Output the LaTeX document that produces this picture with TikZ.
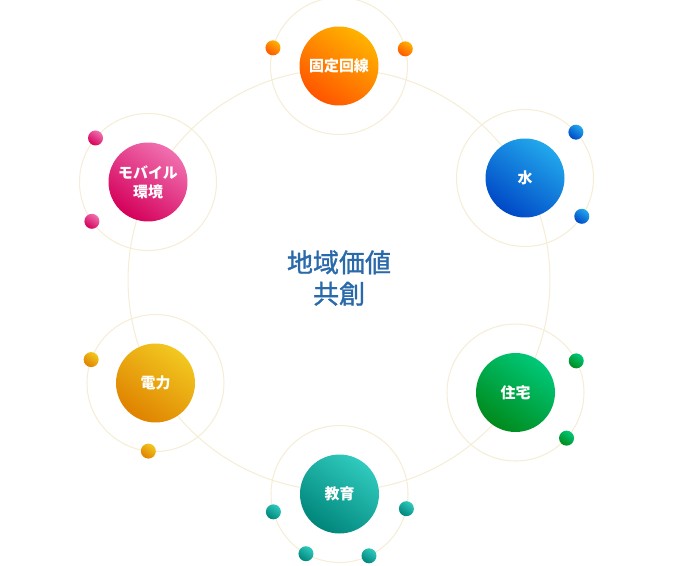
\documentclass[tikz,border=0pt]{standalone}
\usepackage{fontspec}
\usepackage{tikz}
\newfontfamily\jp{Noto Sans CJK JP}
\newfontfamily\jpmid[FakeBold=1.3]{Noto Sans CJK JP}

\definecolor{ringc}{HTML}{F5EDD6}
\definecolor{coretext}{HTML}{2B6AAA}
\definecolor{orL}{HTML}{FFB300}
\definecolor{orD}{HTML}{FF5500}
\definecolor{blL}{HTML}{22A8EC}
\definecolor{blD}{HTML}{0048C6}
\definecolor{grL}{HTML}{00C878}
\definecolor{grD}{HTML}{008A1C}
\definecolor{tlL}{HTML}{30CABE}
\definecolor{tlD}{HTML}{00857A}
\definecolor{ylL}{HTML}{F2C820}
\definecolor{ylD}{HTML}{DF8200}
\definecolor{pkL}{HTML}{F070B0}
\definecolor{pkD}{HTML}{D4005A}

\tikzset{
  ring/.style={draw=ringc, line width=0.6pt},
  ball/.style 2 args={circle, minimum size=1.58cm, inner sep=0pt,
    top color=#1, bottom color=#2, shading angle=-35,
    text=white, align=center,
    font=\jp\bfseries\fontsize{8.5}{10.8}\selectfont},
  dot/.style 2 args={circle, minimum size=0.3cm, inner sep=0pt,
    top color=#1, bottom color=#2, shading angle=-35},
  core/.style={text=coretext, align=center,
    font=\jpmid\fontsize{14.8}{17.8}\selectfont}
}

\begin{document}
\begin{tikzpicture}[x=0.02cm,y=-0.02cm]
\useasboundingbox (0,0) rectangle (686,565);

% Big ring
\draw[ring] (339,280) circle[radius=4.22cm];

% Orbits
\foreach \x/\y in {339/66,525/178,515.5/392.5,339.5/494,155.5/383,148/182}
  \draw[ring] (\x,\y) circle[radius=1.37cm];

% Centre text
\node[core] (core) at (339,278) {地域価値\\共創};

% Balls
\node[ball={orL}{orD}] (line) at (339,66) {固定回線};
\node[ball={blL}{blD}] (water) at (525,178) {水};
\node[ball={grL}{grD}] (house) at (515.5,392.5) {住宅};
\node[ball={tlL}{tlD}] (edu) at (339.5,494) {教育};
\node[ball={ylL}{ylD}] (power) at (155.5,383) {電力};
\node[ball={pkL}{pkD}] (mobile) at (148,182) {モバイル\\環境};

% Small dots on the orbits
\foreach \a in {164.6,14.5}
  \node[dot={orL}{orD}] (line-\a) at ([shift={(\a:1.37cm)}]line) {};
\foreach \a in {42,-34}
  \node[dot={blL}{blD}] (water-\a) at ([shift={(\a:1.37cm)}]water) {};
\foreach \a in {27.5,-41.8}
  \node[dot={grL}{grD}] (house-\a) at ([shift={(\a:1.37cm)}]house) {};
\foreach \a in {195.1,-12.4,240.7,295.5}
  \node[dot={tlL}{tlD}] (edu-\a) at ([shift={(\a:1.37cm)}]edu) {};
\foreach \a in {160,264}
  \node[dot={ylL}{ylD}] (power-\a) at ([shift={(\a:1.37cm)}]power) {};
\foreach \a in {140,215}
  \node[dot={pkL}{pkD}] (mobile-\a) at ([shift={(\a:1.37cm)}]mobile) {};

\end{tikzpicture}
\end{document}
